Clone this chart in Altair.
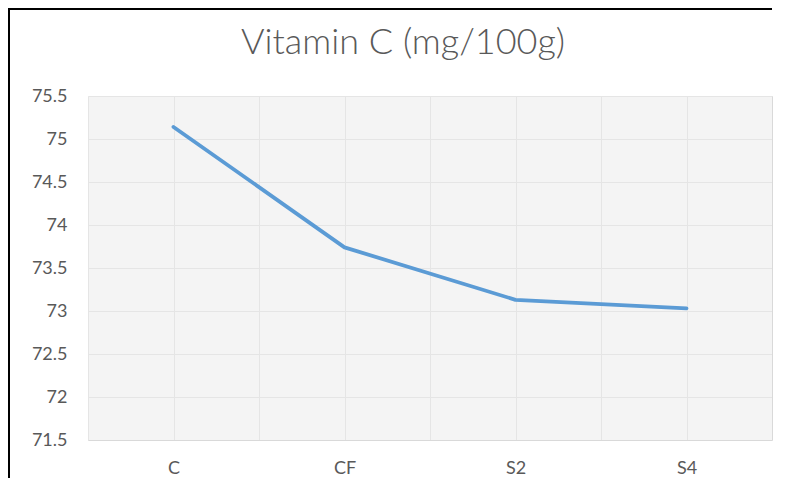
import json
import altair as alt
import pandas as pd

# ---- data ----
categories = ["C", "CF", "S2", "S4"]
values = [75.14, 73.74, 73.13, 73.03]
y_ticks = [71.5, 72, 72.5, 73, 73.5, 74, 74.5, 75, 75.5]
title_text = "Vitamin C (mg/100g)"

df = pd.DataFrame({"idx": list(range(len(categories))), "category": categories, "value": values})
one = pd.DataFrame({"t": [title_text]})

W, H = 684, 344
FONT = "Lato"
GRID = "#d9d9d9"
TEXT = "#595959"
PLOT_BG = "#ededed"

x_vals = [i * 0.5 - 0.5 for i in range(2 * len(categories) + 1)]
label_expr = "datum.value % 1 === 0 ? " + json.dumps(categories) + "[datum.value] : ''"

x_scale = alt.Scale(domain=[-0.5, len(categories) - 0.5], nice=False, zero=False)
y_scale = alt.Scale(domain=[71.5, 75.5], nice=False, zero=False)

x_axis = alt.Axis(
    values=x_vals, labelExpr=label_expr, title=None, grid=True, gridColor=GRID, gridWidth=1,
    domain=False, ticks=False, tickSize=0, labelPadding=19, labelFont=FONT, labelFontSize=18,
    labelColor=TEXT, labelAngle=0,
)
y_axis = alt.Axis(
    values=y_ticks, format=".3~r", title=None, grid=True, gridColor=GRID, gridWidth=1,
    domain=False, ticks=False, tickSize=0, labelPadding=21, labelFont=FONT, labelFontSize=18,
    labelColor=TEXT,
)

plot_bg = alt.Chart(one).mark_rect(fill=PLOT_BG, opacity=0.6, strokeWidth=0).encode(
    x=alt.datum(-0.5, scale=x_scale, axis=x_axis),
    x2=alt.datum(len(categories) - 0.5),
    y=alt.datum(71.5, scale=y_scale, axis=y_axis),
    y2=alt.datum(75.5),
)

line = alt.Chart(df).mark_line(color="#5B9BD5", strokeWidth=3.8, strokeCap="round", strokeJoin="round").encode(
    x=alt.X("idx:Q", scale=x_scale, axis=x_axis),
    y=alt.Y("value:Q", scale=y_scale, axis=y_axis),
)

title = alt.Chart(one).mark_text(
    font=FONT, fontSize=36, fontWeight=300, color=TEXT, align="center", baseline="alphabetic"
).encode(text="t:N", x=alt.value(315), y=alt.value(-42))

border_left = alt.Chart(one).mark_rule(color="#000000", strokeWidth=2).encode(
    x=alt.value(-79), y=alt.value(-88), y2=alt.value(400)
)
border_top = alt.Chart(one).mark_rect(color="#000000", strokeWidth=0).encode(
    x=alt.value(-80), x2=alt.value(684), y=alt.value(-88), y2=alt.value(-86)
)

chart = alt.layer(plot_bg, line, title, border_left, border_top).properties(
    width=W,
    height=H,
    autosize=alt.AutoSizeParams(type="none"),
    padding={"left": 80, "top": 88, "right": 6, "bottom": 38},
).configure_view(stroke=None)

chart.save("out.html", embed_options={"renderer": "svg", "actions": False})
